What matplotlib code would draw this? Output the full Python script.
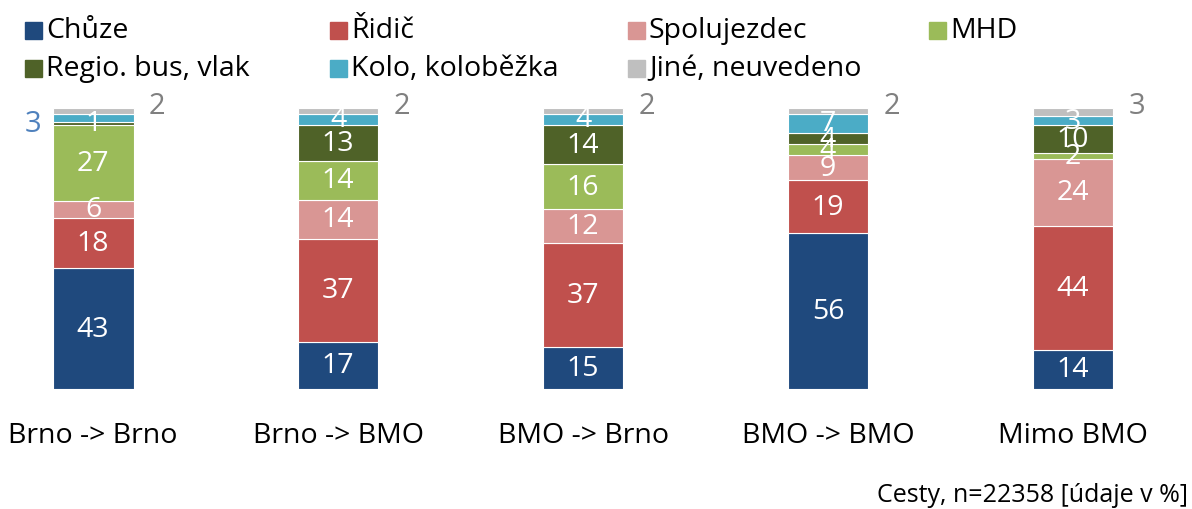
import matplotlib
matplotlib.use("Agg")
import matplotlib.pyplot as plt
from matplotlib.patches import Rectangle
import numpy as np

plt.rcParams['font.family'] = ['Open Sans', 'DejaVu Sans']

# categories (trip relations) and shares in % per mode
categories = ['Brno -> Brno', 'Brno -> BMO', 'BMO -> Brno', 'BMO -> BMO', 'Mimo BMO']
modes = ['Chůze', 'Řidič', 'Spolujezdec', 'MHD',
         'Regio. bus, vlak', 'Kolo, koloběžka', 'Jiné, neuvedeno']
colors = ['#1F497D', '#C0504D', '#D99694', '#9BBB59',
          '#4F6228', '#4BACC6', '#BFBFBF']

chuze = [43, 17, 15, 56, 14]
ridic = [18, 37, 37, 19, 44]
spolujezdec = [6, 14, 12, 9, 24]
mhd = [27, 14, 16, 4, 2]
regio = [1, 13, 14, 4, 10]
kolo = [3, 4, 4, 7, 3]
jine = [2, 2, 2, 2, 3]

series = [chuze, ridic, spolujezdec, mhd, regio, kolo, jine]
footer = 'Cesty, n=22358 [údaje v %]'

data = np.array(series, dtype=float)
# 100% stacked: scale each column to its total
shares = data / data.sum(axis=0) * 100

fig = plt.figure(figsize=(11.92, 5.10), dpi=100)
ax = fig.add_axes([0, 0.2353, 1, 0.551])

x = np.arange(len(categories))
bottom = np.zeros(len(categories))
for k, (name, col) in enumerate(zip(modes, colors)):
    ax.bar(x, shares[k], 0.33, bottom=bottom, color=col,
           edgecolor='white', linewidth=0.8)
    for i in range(len(categories)):
        val = int(data[k, i])
        yc = bottom[i] + shares[k, i] / 2
        if k == 6:
            ax.text(i + 0.26, 100.8, str(val), ha='center', va='center',
                    fontsize=21, color='#808080')
        elif k == 5 and i == 0:
            ax.text(i - 0.245, 94.4, str(val), ha='center', va='center',
                    fontsize=21, color='#4F81BD')
        else:
            ax.text(i, yc, str(val), ha='center', va='center',
                    fontsize=20.5, color='white')
    bottom += shares[k]

ax.set_xlim(-0.38, 4.486)
ax.set_ylim(0, 100)
ax.set_yticks([])
ax.set_xticks(x)
ax.set_xticklabels(categories, fontsize=20.5)
ax.tick_params(axis='x', length=0, pad=23)
for s in ax.spines.values():
    s.set_visible(False)
ax.patch.set_alpha(0)

# legend, 4 equal columns
col_x = [25, 330, 628, 929]
row_y = [31, 69]
W, H = 1192, 510
for n, (name, col) in enumerate(zip(modes, colors)):
    r, c = divmod(n, 4)
    px, py = col_x[c], row_y[r]
    fig.patches.append(Rectangle((px / W, (H - py - 8.5) / H), 17 / W, 17 / H,
                                 transform=fig.transFigure, color=col))
    fig.text((px + 21) / W, (H - py) / H, name, ha='left', va='center',
             fontsize=20.5)

fig.text(1188 / W, (H - 496) / H, footer, ha='right', va='center', fontsize=18)

fig.savefig('out.png', dpi=100)
